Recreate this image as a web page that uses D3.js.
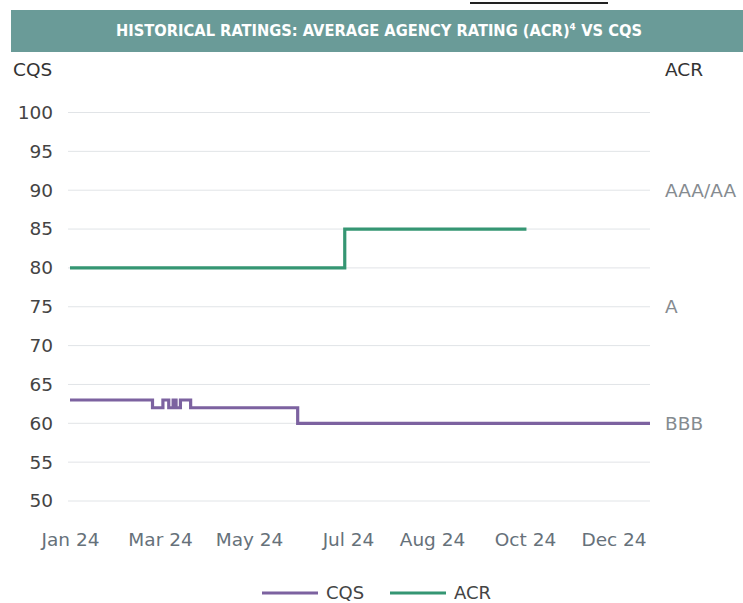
<!DOCTYPE html>
<html>
<head>
<meta charset="utf-8">
<script src="https://cdn.jsdelivr.net/npm/d3@7"></script>
<style>
  body { margin: 0; background: #fff; }
  svg { display: block; font-family: "DejaVu Sans", sans-serif; }
</style>
</head>
<body>
<div id="chart"></div>
<script>
// tick months shown on the x axis
const tickDates = ["2024-01-01", "2024-03-01", "2024-05-01", "2024-07-01", "2024-08-01", "2024-10-01", "2024-12-01"]
const yTicks = [50, 55, 60, 65, 70, 75, 80, 85, 90, 95, 100]
const ratingLabels = [["AAA/AA", 90], ["A", 75], ["BBB", 60]]

// step series (date of change, value)
const cqsDates = ["2024-01-01", "2024-02-25", "2024-03-03", "2024-03-07", "2024-03-10", "2024-03-12", "2024-03-15", "2024-03-22", "2024-05-31", "2024-12-31"]
const cqsValues = [63, 62, 63, 62, 63, 62, 63, 62, 60, 60]
const acrDates = ["2024-01-01", "2024-06-29", "2024-10-02"]
const acrValues = [80, 85, 85]

function draw() {
    const width = 743
    const height = 603
    const parse = d3.timeParse("%Y-%m-%d")

    const svg = d3.select("#chart")
        .append("svg")
        .attr("width", width)
        .attr("height", height)

    // little dark rule above the header
    svg.append("line")
        .attr("x1", 470).attr("x2", 608)
        .attr("y1", 3).attr("y2", 3)
        .attr("stroke", "#222")
        .attr("stroke-width", 2)

    // header bar
    svg.append("rect")
        .attr("x", 11).attr("y", 10)
        .attr("width", width - 11).attr("height", 42)
        .attr("fill", "#6a9b98")

    svg.append("text")
        .attr("x", 379).attr("y", 36)
        .attr("text-anchor", "middle")
        .attr("fill", "#fff")
        .attr("font-family", "'DejaVu Sans Condensed', 'DejaVu Sans', sans-serif")
        .attr("font-stretch", "condensed")
        .attr("font-weight", "bold")
        .attr("font-size", 16.5)
        .attr("textLength", 526)
        .attr("lengthAdjust", "spacingAndGlyphs")
        .text("HISTORICAL RATINGS: AVERAGE AGENCY RATING (ACR)\u2074 VS CQS")

    // piecewise time scale, ticks placed as on the original axis
    const tickPos = [70, 160, 249, 348, 432, 525, 613.5]
    const x = d3.scaleTime()
        .domain(tickDates.map(parse).concat([parse("2024-12-31")]))
        .range(tickPos.concat([650]))

    const y = d3.scaleLinear()
        .domain([50, 100])
        .range([501, 112.5])

    // gridlines
    svg.append("g")
        .selectAll("line")
        .data(yTicks)
        .join("line")
        .attr("x1", 68).attr("x2", 650)
        .attr("y1", d => y(d)).attr("y2", d => y(d))
        .attr("stroke", "#e1e4e7")
        .attr("stroke-width", 1)

    // left axis
    const yAxis = svg.append("g")
        .attr("transform", "translate(53,0)")
        .call(d3.axisLeft(y).tickValues(yTicks).tickSize(0).tickPadding(0))
    yAxis.select(".domain").remove()
    yAxis.selectAll("text")
        .attr("font-family", "DejaVu Sans, sans-serif")
        .attr("font-size", 18.5)
        .attr("fill", "#444")

    // right rating labels
    svg.append("g")
        .selectAll("text")
        .data(ratingLabels)
        .join("text")
        .attr("x", 665)
        .attr("y", d => y(d[1]))
        .attr("dy", "0.35em")
        .attr("font-size", 18.5)
        .attr("fill", "#858b90")
        .text(d => d[0])

    svg.append("text")
        .attr("x", 13).attr("y", 76)
        .attr("font-size", 18.5)
        .attr("fill", "#333")
        .text("CQS")
    svg.append("text")
        .attr("x", 665).attr("y", 76)
        .attr("font-size", 18.5)
        .attr("fill", "#333")
        .text("ACR")

    // bottom axis
    const xAxis = svg.append("g")
        .attr("transform", "translate(0,532)")
        .call(d3.axisBottom(x)
            .tickValues(tickDates.map(parse))
            .tickFormat(d3.timeFormat("%b %y"))
            .tickSize(0).tickPadding(0))
    xAxis.select(".domain").remove()
    xAxis.selectAll("text")
        .attr("font-family", "DejaVu Sans, sans-serif")
        .attr("font-size", 18.5)
        .attr("fill", "#66717a")
        .attr("dy", "0.75em")

    const line = d3.line()
        .curve(d3.curveStepAfter)
        .x(d => x(d[0]))
        .y(d => y(d[1]))

    const cqs = cqsDates.map((d, i) => [parse(d), cqsValues[i]])
    const acr = acrDates.map((d, i) => [parse(d), acrValues[i]])

    svg.append("path")
        .datum(acr)
        .attr("fill", "none")
        .attr("stroke", "#359673")
        .attr("stroke-width", 3.2)
        .attr("d", line)

    svg.append("path")
        .datum(cqs)
        .attr("fill", "none")
        .attr("stroke", "#7c62a0")
        .attr("stroke-width", 3.2)
        .attr("d", line)

    // legend
    const legend = [["CQS", "#7c62a0", 262], ["ACR", "#359673", 390]]
    const lg = svg.append("g")
        .selectAll("g")
        .data(legend)
        .join("g")
        .attr("transform", d => `translate(${d[2]},593)`)
    lg.append("line")
        .attr("x1", 0).attr("x2", 56)
        .attr("stroke", d => d[1])
        .attr("stroke-width", 3.2)
    lg.append("text")
        .attr("x", 64)
        .attr("dy", "0.35em")
        .attr("font-size", 18)
        .attr("fill", "#444")
        .text(d => d[0])
}
draw()
</script>
</body>
</html>
